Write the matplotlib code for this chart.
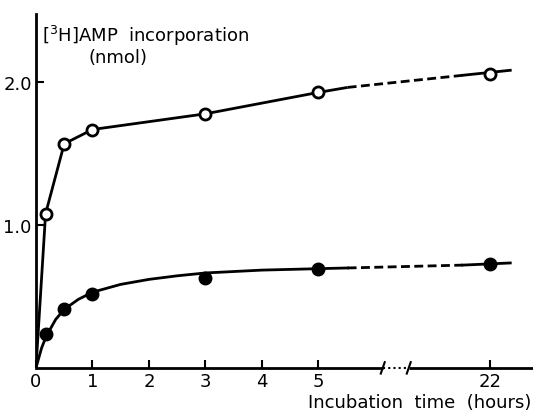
import numpy as np
import matplotlib
matplotlib.use("Agg")
import matplotlib.pyplot as plt

# ==============================
# DATA
# ==============================
open_hours = [0.17, 0.5, 1, 3, 5, 22]
open_vals = [1.08, 1.57, 1.67, 1.78, 1.93, 2.06]

filled_hours = [0.17, 0.5, 1, 3, 5, 22]
filled_vals = [0.24, 0.41, 0.52, 0.63, 0.69, 0.73]

# connecting line for open circles (solid / dashed / solid)
open_line_h = [0, 0.17, 0.5, 1, 3, 5, 7.9]
open_line_v = [0, 1.08, 1.57, 1.67, 1.78, 1.93, 1.965]
open_dash_h = [7.9, 19.3]
open_dash_v = [1.965, 2.05]
open_end_h = [19.3, 24]
open_end_v = [2.05, 2.085]

# fitted curve for filled circles
filled_line_h = [0, 0.05, 0.1, 0.17, 0.25, 0.35, 0.5, 0.75, 1, 1.5, 2, 2.5, 3, 4, 5, 7.9]
filled_line_v = [0, 0.07, 0.14, 0.21, 0.27, 0.34, 0.41, 0.48, 0.53, 0.585, 0.62, 0.645, 0.665, 0.685, 0.695, 0.70]
filled_dash_h = [7.9, 19.3]
filled_dash_v = [0.70, 0.72]
filled_end_h = [19.3, 24]
filled_end_v = [0.72, 0.735]

x_ticks_h = [0, 1, 2, 3, 4, 5, 22]
x_tick_labels = ["0", "1", "2", "3", "4", "5", "22"]
y_ticks = [1.0, 2.0]
y_tick_labels = ["1.0", "2.0"]


# broken time axis: linear up to 5 h, compressed afterwards
def xpos(h):
    h = np.asarray(h, dtype=float)
    return np.where(h <= 5, h, 5 + (h - 5) * 3.04 / 17)


# ==============================
# PLOT
# ==============================
plt.rcParams['font.family'] = ['DejaVu Sans']
fig = plt.figure(figsize=(5.33, 4.14), dpi=100)
ax = fig.add_axes([0.0675, 0.109, 0.9325, 0.855])

lw = 2.0
dash = (0, (3.2, 1.6))
ax.plot(xpos(open_line_h), open_line_v, color='black', lw=lw, solid_capstyle='butt')
ax.plot(xpos(open_dash_h), open_dash_v, color='black', lw=lw, ls=dash)
ax.plot(xpos(open_end_h), open_end_v, color='black', lw=lw)
ax.plot(xpos(filled_line_h), filled_line_v, color='black', lw=lw)
ax.plot(xpos(filled_dash_h), filled_dash_v, color='black', lw=lw, ls=dash)
ax.plot(xpos(filled_end_h), filled_end_v, color='black', lw=lw)

ax.plot(xpos(open_hours), open_vals, 'o', ms=8, mfc='white', mec='black', mew=2, zorder=5)
ax.plot(xpos(filled_hours), filled_vals, 'o', ms=9, mfc='black', mec='black', zorder=5)

ax.set_xlim(0, 8.8)
ax.set_ylim(0, 2.48)

for s in ['top', 'right', 'bottom']:
    ax.spines[s].set_visible(False)
ax.spines['left'].set_linewidth(2)

# x axis drawn by hand because of the break
b1, b2 = 6.14, 6.6
ax.plot([0, b1], [0, 0], color='black', lw=2, clip_on=False, solid_capstyle='butt')
ax.plot([b1, b2], [0, 0], color='black', lw=1.5, ls=(0, (1, 1.5)), clip_on=False)
ax.plot([b2, 8.8], [0, 0], color='black', lw=2, clip_on=False, solid_capstyle='butt')
for b in (b1, b2):
    ax.plot([b - 0.035, b + 0.035], [-0.04, 0.04], color='black', lw=1.5, clip_on=False)

ax.set_xticks(xpos(x_ticks_h))
ax.set_xticklabels(x_tick_labels, fontsize=13)
ax.set_yticks(y_ticks)
ax.set_yticklabels(y_tick_labels, fontsize=13)
ax.tick_params(axis='both', direction='in', length=6, width=1.5, pad=3)

ax.text(0.012, 0.975, r"[$^3$H]AMP  incorporation", transform=ax.transAxes,
        fontsize=13, va='top', ha='left')
ax.text(0.105, 0.905, "(nmol)", transform=ax.transAxes, fontsize=13, va='top', ha='left')
ax.text(0.997, -0.07, "Incubation  time  (hours)", transform=ax.transAxes,
        fontsize=13, va='top', ha='right')

fig.savefig("out.png", dpi=100)
